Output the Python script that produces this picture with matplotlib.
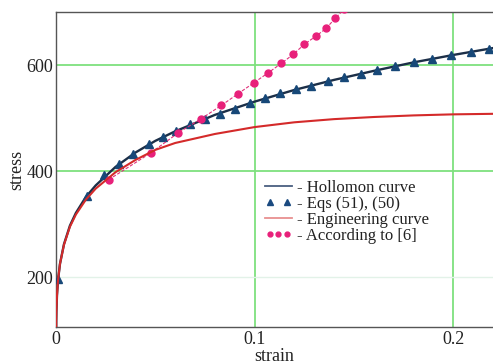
import matplotlib
matplotlib.use("Agg")
import matplotlib.pyplot as plt
from matplotlib.lines import Line2D
from matplotlib.legend_handler import HandlerLine2D

plt.rcParams['font.family'] = ['Liberation Serif', 'DejaVu Serif']

# Hollomon curve
holl_strain = [0, 0.0001, 0.0002, 0.0005, 0.001, 0.002, 0.004, 0.007, 0.01, 0.015, 0.02,
               0.03, 0.04, 0.05, 0.06, 0.08, 0.10, 0.12, 0.14, 0.16, 0.18, 0.20, 0.22]
holl_stress = [0, 117, 136, 166, 194, 225, 262, 297, 321, 351, 373,
               408, 435, 457, 475, 506, 531, 553, 572, 589, 605, 619, 632]

# Eqs (51), (50) - triangles
eq_strain = [0.001, 0.0157, 0.0241, 0.0317, 0.0389, 0.0467, 0.0539, 0.0606, 0.0677,
             0.0749, 0.0824, 0.0899, 0.0975, 0.105, 0.1129, 0.121, 0.1285, 0.1368,
             0.1452, 0.1536, 0.1618, 0.1709, 0.180, 0.1893, 0.199, 0.2089, 0.218]
eq_stress = [196, 353, 393, 414, 433, 451, 464, 475, 488, 499, 508, 518, 529, 538,
             547, 554, 561, 569, 577, 584, 591, 599, 606, 611, 619, 625, 631]

# Engineering curve
eng_strain = [0, 0.0001, 0.0002, 0.0005, 0.001, 0.002, 0.004, 0.007, 0.01, 0.015, 0.02,
              0.03, 0.04, 0.05, 0.06, 0.08, 0.10, 0.12, 0.14, 0.16, 0.18, 0.20, 0.22]
eng_stress = [0, 117, 136, 166, 194, 225, 261, 295, 318, 346, 367,
              398, 421, 440, 453, 470, 483, 492, 498, 502, 505, 507, 508]

# According to [6]
ref_strain = [0.0266, 0.0476, 0.0615, 0.0732, 0.0833, 0.0917, 0.0998, 0.1067, 0.1134,
              0.1194, 0.1250, 0.1307, 0.1360, 0.1405, 0.1450]
ref_stress = [384, 434, 472, 499, 524, 546, 567, 585, 603, 620, 639, 654, 669, 688, 705]

fig = plt.figure(figsize=(4.93, 3.64), dpi=100)
ax = fig.add_axes([56/493, 37/364, 437/493, 315/364])

# grid
for gx in [0.1, 0.2]:
    ax.axvline(gx, color='#7ee07e', lw=1.3, zorder=0)
for gy in [400, 600]:
    ax.axhline(gy, color='#7ee07e', lw=1.3, zorder=0)
ax.axhline(200, color='#e2f2e8', lw=1.0, zorder=0)

ax.plot(holl_strain, holl_stress, color='#1c2f48', lw=1.7, zorder=2)
ax.plot(eq_strain, eq_stress, ls='none', marker='^', ms=6, color='#174878', zorder=3)
ax.plot(ref_strain, ref_stress, color='#e0307a', lw=0.8, ls=(0, (3, 1.5)),
        marker='o', ms=5, mfc='#e8207a', mec='#e8207a', zorder=3)
ax.plot(eng_strain, eng_stress, color='#d42a2a', lw=1.5, zorder=4)

ax.set_xlim(0, 0.22)
ax.set_ylim(106, 700)
ax.set_xticks([0, 0.1, 0.2])
ax.set_xticklabels(['0', '0.1', '0.2'])
ax.set_yticks([200, 400, 600])
ax.tick_params(length=0, labelsize=13, colors='#222222')
ax.tick_params(axis='x', pad=3)
ax.tick_params(axis='y', pad=2)

for s in ['left', 'bottom', 'top']:
    ax.spines[s].set_color('#555555')
    ax.spines[s].set_linewidth(1.0)
ax.spines['right'].set_visible(False)

ax.set_xlabel('strain', fontsize=13, color='#222222', labelpad=0)
ax.set_ylabel('stress', fontsize=13, color='#222222', labelpad=1)

handles = [
    Line2D([], [], color='#4a5f80', lw=1.3),
    Line2D([], [], ls='none', marker='^', ms=5, color='#1a4a80'),
    Line2D([], [], color='#e89090', lw=1.3),
    Line2D([], [], ls='none', marker='o', ms=3.5, color='#e8207a'),
]
labels = ['- Hollomon curve', '- Eqs (51), (50)', '- Engineering curve', '- According to [6]']
leg = ax.legend(handles, labels, loc='upper left', bbox_to_anchor=(0.478, 0.468),
                frameon=False, fontsize=12, labelspacing=0.0, handlelength=1.6,
                handletextpad=0.35, borderpad=0, borderaxespad=0,
                handler_map={handles[1]: HandlerLine2D(numpoints=2),
                             handles[3]: HandlerLine2D(numpoints=3)})
for t in leg.get_texts():
    t.set_color('#222222')

fig.savefig('out.png', dpi=100)
